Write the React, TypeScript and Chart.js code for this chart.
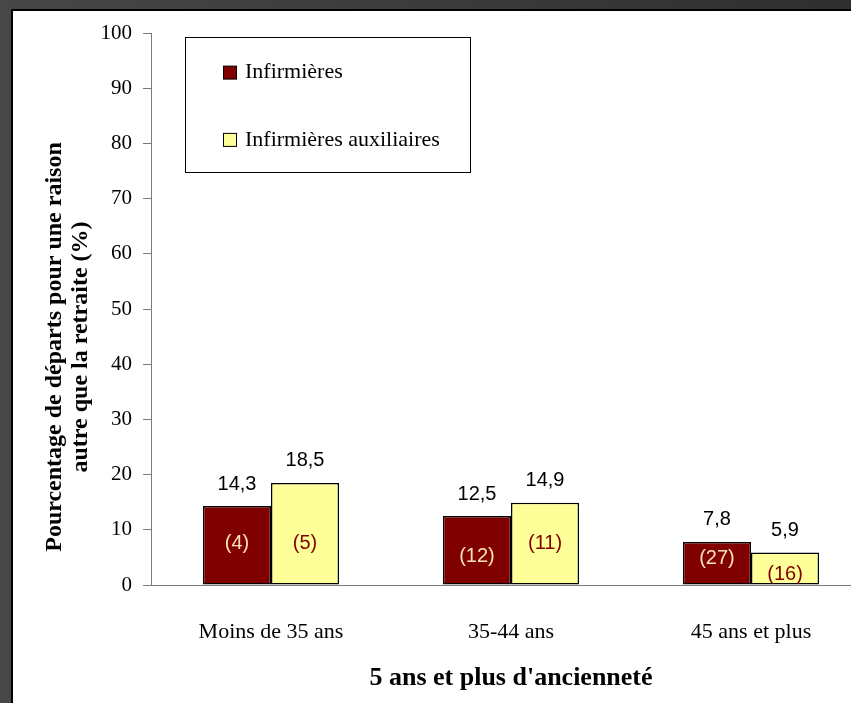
import React, { useEffect, useRef } from "react";
import { Chart, registerables } from "chart.js";

Chart.register(...registerables);

const categories = ["Moins de 35 ans", "35-44 ans", "45 ans et plus"];
const seriesNames = ["Infirmières", "Infirmières auxiliaires"];
const infirmieres = [14.3, 12.5, 7.8];
const auxiliaires = [18.5, 14.9, 5.9];
const infirmieresCounts = [4, 12, 27];
const auxiliairesCounts = [5, 11, 16];
// level (in % units) at which each count label sits
const infirmieresCountLevels = [7.45, 5.2, 4.85];
const auxiliairesCountLevels = [7.45, 7.6, 1.85];
const yTitleLines = ["Pourcentage de départs pour une raison", "autre que la retraite (%)"];
const xTitle = "5 ans et plus d'ancienneté";
const yMin = 0;
const yMax = 100;
const yStep = 10;

const SERIF = "'Liberation Serif', 'Times New Roman', serif";
const SANS = "'Liberation Sans', Arial, sans-serif";
const RED = "#800000";
const YELLOW = "#FFFF99";

const fmt = (v: number) => v.toFixed(1).replace(".", ",");

const overlay = {
  id: "overlay",
  afterDatasetsDraw(chart: any) {
    const ctx: CanvasRenderingContext2D = chart.ctx;
    const yScale = chart.scales.y;
    const countSets = [infirmieresCounts, auxiliairesCounts];
    const levelSets = [infirmieresCountLevels, auxiliairesCountLevels];
    const countColors = ["#F8E2B2", RED];
    ctx.save();
    chart.data.datasets.forEach((ds: any, di: number) => {
      const meta = chart.getDatasetMeta(di);
      meta.data.forEach((bar: any, i: number) => {
        ctx.font = `20px ${SANS}`;
        ctx.fillStyle = "#000";
        ctx.textAlign = "center";
        ctx.textBaseline = "middle";
        ctx.fillText(fmt(ds.data[i]), bar.x, bar.y - 22);
        ctx.fillStyle = countColors[di];
        ctx.fillText(`(${countSets[di][i]})`, bar.x, yScale.getPixelForValue(levelSets[di][i]));
      });
    });

    // legend box
    ctx.lineWidth = 1;
    ctx.strokeStyle = "#000";
    ctx.fillStyle = "#fff";
    ctx.fillRect(185.5, 37.5, 285, 135);
    ctx.strokeRect(185.5, 37.5, 285, 135);
    const itemY = [72.6, 139.9];
    chart.data.datasets.forEach((ds: any, di: number) => {
      const cy = itemY[di];
      ctx.fillStyle = ds.backgroundColor;
      ctx.fillRect(223.5, cy - 6.5, 13, 13);
      ctx.strokeStyle = "#000";
      ctx.strokeRect(223.5, cy - 6.5, 13, 13);
      ctx.fillStyle = "#000";
      ctx.font = `22px ${SERIF}`;
      ctx.textAlign = "left";
      ctx.textBaseline = "middle";
      ctx.fillText(ds.label, 245, cy);
    });

    // y axis title (two lines, rotated)
    ctx.font = `bold 24px ${SERIF}`;
    ctx.fillStyle = "#000";
    ctx.textAlign = "center";
    ctx.textBaseline = "middle";
    const xs = [55.2, 81.2];
    yTitleLines.forEach((line, li) => {
      ctx.save();
      ctx.translate(xs[li], 347);
      ctx.rotate(-Math.PI / 2);
      ctx.fillText(line, 0, 0);
      ctx.restore();
    });
    ctx.restore();
  },
};

export default function App() {
  const ref = useRef<HTMLCanvasElement>(null);
  useEffect(() => {
    const chart = new Chart(ref.current as HTMLCanvasElement, {
      type: "bar",
      data: {
        labels: categories,
        datasets: [
          {
            label: seriesNames[0],
            data: infirmieres,
            backgroundColor: RED,
            borderColor: "#000",
            borderWidth: 1.5,
            borderSkipped: false,
            barPercentage: 1,
            categoryPercentage: 0.567,
          },
          {
            label: seriesNames[1],
            data: auxiliaires,
            backgroundColor: YELLOW,
            borderColor: "#000",
            borderWidth: 1.5,
            borderSkipped: false,
            barPercentage: 1,
            categoryPercentage: 0.567,
          },
        ],
      },
      options: {
        responsive: false,
        animation: false,
        devicePixelRatio: 1,
        layout: { padding: { top: 33, right: 9, bottom: 0, left: 0 } },
        plugins: { legend: { display: false }, tooltip: { enabled: false } },
        scales: {
          x: {
            grid: { display: false },
            border: { display: true, color: "#7a7a7a", width: 1 },
            ticks: {
              font: { family: SERIF, size: 22 },
              color: "#000",
              padding: 26,
              maxRotation: 0,
              autoSkip: false,
            },
            title: {
              display: true,
              text: xTitle,
              font: { family: SERIF, size: 26, weight: "bold" },
              color: "#000",
              padding: { top: 0, bottom: 9.5 },
            },
            afterFit: (s: any) => {
              s.height = 118;
            },
          },
          y: {
            min: yMin,
            max: yMax,
            ticks: {
              stepSize: yStep,
              font: { family: SERIF, size: 21 },
              color: "#000",
              padding: 11,
            },
            grid: { drawOnChartArea: false, drawTicks: true, tickLength: 8, color: "#7a7a7a" },
            border: { color: "#7a7a7a", width: 1 },
            afterFit: (s: any) => {
              s.width = 151;
            },
          },
        },
      },
      plugins: [overlay],
    } as any);
    return () => chart.destroy();
  }, []);

  return (
    <div
      style={{
        position: "fixed",
        left: 0,
        top: 0,
        width: 851,
        height: 703,
        overflow: "hidden",
        background: "linear-gradient(90deg, #474747, #2f2f2f)",
      }}
    >
      <div
        style={{
          position: "absolute",
          left: 11,
          top: 9,
          right: 0,
          bottom: 0,
          background: "#fff",
          borderLeft: "2px solid #000",
          borderTop: "2px solid #000",
        }}
      />
      <canvas
        ref={ref}
        width={880}
        height={703}
        style={{ position: "absolute", left: 0, top: 0, width: 880, height: 703 }}
      />
    </div>
  );
}
